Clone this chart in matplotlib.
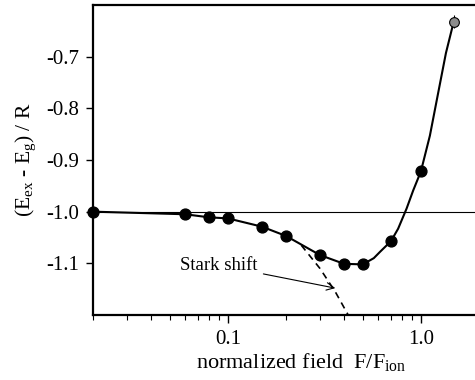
import matplotlib
matplotlib.use("Agg")
import matplotlib.pyplot as plt
from matplotlib.ticker import FixedLocator, FixedFormatter, LogLocator, NullFormatter

plt.rcParams['font.family'] = ['Liberation Serif', 'DejaVu Serif']
plt.rcParams['mathtext.fontset'] = 'custom'
plt.rcParams['mathtext.rm'] = 'Liberation Serif'
plt.rcParams['mathtext.it'] = 'Liberation Serif:italic'

# measured points
field = [0.02, 0.06, 0.08, 0.1, 0.15, 0.2, 0.3, 0.4, 0.5, 0.7, 1.0]
energy = [-1.0, -1.005, -1.011, -1.013, -1.029, -1.047, -1.084, -1.101, -1.102, -1.057, -0.922]
# last (grey) point
field_last = [1.48]
energy_last = [-0.632]
err_last = [0.012]
# smooth curve
curve_f = [0.02, 0.06, 0.08, 0.1, 0.15, 0.2, 0.3, 0.4, 0.5, 0.57, 0.615, 0.7, 0.762, 0.843, 0.912,
           1.0, 1.113, 1.229, 1.348, 1.48]
curve_e = [-1.0, -1.005, -1.011, -1.013, -1.029, -1.047, -1.084, -1.101, -1.102, -1.09, -1.0775,
           -1.057, -1.033, -0.994, -0.959, -0.922, -0.853, -0.770, -0.693, -0.632]
# Stark shift (dashed)
stark_f = [0.24, 0.3, 0.36, 0.42]
stark_e = [-1.065, -1.11, -1.155, -1.2]

ytick_vals = [-0.7, -0.8, -0.9, -1.0, -1.1]
ytick_labels = ['-0.7', '-0.8', '-0.9', '-1.0', '-1.1']
xtick_vals = [0.1, 1.0]
xtick_labels = ['0.1', '1.0']

fig = plt.figure(figsize=(4.75, 3.8), dpi=100)
ax = fig.add_axes([93/475, 65/380, (479-93)/475, 310/380])
ax.set_xscale('log')
ax.set_xlim(0.02, 2.0)
ax.set_ylim(-1.2, -0.6)

ax.axhline(-1.0, color='black', lw=0.8, zorder=1)
ax.plot(curve_f, curve_e, color='black', lw=1.5, zorder=2, solid_joinstyle='round')
ax.plot(stark_f, stark_e, color='black', lw=1.2, ls=(0, (4, 3)), zorder=2)
ax.plot(field, energy, 'o', color='black', ms=7.8, zorder=3, clip_on=False)
ax.errorbar(field_last, energy_last, yerr=err_last, fmt='o', mfc='#8c8c8c', mec='black',
            mew=0.8, ms=7, ecolor='black', elinewidth=0.8, capsize=0, zorder=3)

ax.annotate('Stark shift', xy=(0.36, -1.148), xytext=(0.143, -1.12),
            fontsize=13.5, ha='right', va='bottom',
            arrowprops=dict(arrowstyle='->', color='black', lw=0.8,
                            shrinkA=2, shrinkB=0))

ax.yaxis.set_major_locator(FixedLocator(ytick_vals))
ax.yaxis.set_major_formatter(FixedFormatter(ytick_labels))
ax.xaxis.set_major_locator(FixedLocator(xtick_vals))
ax.xaxis.set_major_formatter(FixedFormatter(xtick_labels))
ax.xaxis.set_minor_locator(LogLocator(base=10, subs=range(2, 10)))
ax.xaxis.set_minor_formatter(NullFormatter())

ax.tick_params(axis='both', which='major', direction='out', length=5, width=1.0,
               labelsize=15, color='black')
ax.tick_params(axis='x', which='minor', direction='out', length=3.5, width=0.8)
ax.tick_params(axis='x', which='major', length=5.5, pad=5)
ax.tick_params(axis='y', which='major', pad=5)
ax.tick_params(axis='y', which='minor', left=False)

for s in ['left', 'bottom', 'top']:
    ax.spines[s].set_linewidth(1.6)
ax.spines['right'].set_visible(False)

ax.set_xlabel(r'normalized field  F/F$_{\rm ion}$', fontsize=16)
ax.xaxis.set_label_coords(0.54, -0.117)
ax.set_ylabel(r'(E$_{\rm ex}$ - E$_{\rm g}$) / R', fontsize=15.5, labelpad=6)

fig.savefig('out.png', dpi=100)
